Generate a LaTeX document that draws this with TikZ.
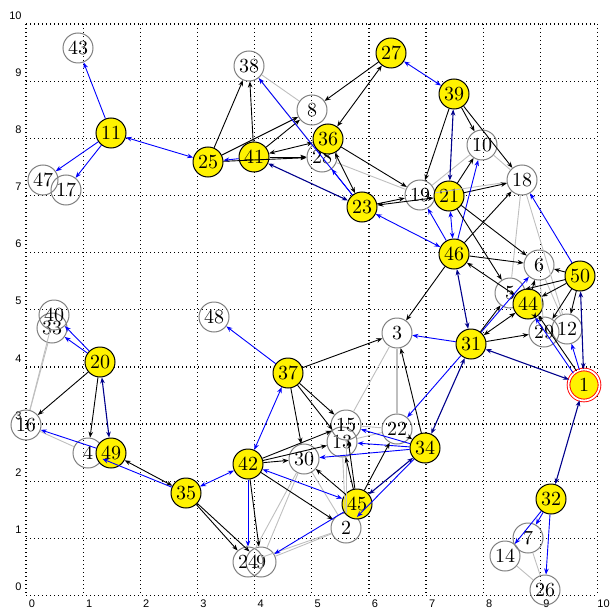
\documentclass[tikz,border=0pt]{standalone}
\usepackage{fontspec}
\newfontfamily\tickfont{Liberation Sans}
\usetikzlibrary{arrows.meta}
\definecolor{navy}{rgb}{0,0,0.55}
\definecolor{lgray}{gray}{0.75}
\definecolor{ngray}{gray}{0.5}
\begin{document}
\begin{tikzpicture}[x=0.5pt,y=-0.5pt,
  nodefont/.style={font=\fontsize{10}{12}\selectfont},
  yn/.style={circle,draw=black,fill=yellow,line width=0.5pt,minimum size=15pt,inner sep=0pt,nodefont},
  wn/.style={circle,draw=ngray,line width=0.5pt,minimum size=15pt,inner sep=0pt,nodefont},
  rn/.style={circle,draw=red,double=white,double distance=0.9pt,line width=0.45pt,fill=yellow,minimum size=15.5pt,inner sep=0pt,nodefont},
  gridl/.style={draw=black,line width=0.6pt,dash pattern=on 0.6pt off 1.4pt},
  tick/.style={font=\tickfont\fontsize{5.5}{6}\selectfont,inner sep=0pt},
  tip/.style={-{Stealth[length=3pt,width=2.3pt]}},
  tip2/.style={{Stealth[length=3pt,width=2.3pt]}-{Stealth[length=3pt,width=2.3pt]}},
  bk/.style={draw=black,line width=0.45pt,tip},
  bk2/.style={draw=black,line width=0.45pt,tip2},
  bl/.style={draw=blue,line width=0.45pt,tip},
  bl2/.style={draw=blue,line width=0.45pt,tip2},
  nv2/.style={draw=navy,line width=0.55pt,tip2},
  gr/.style={draw=lgray,line width=0.45pt}
]
\useasboundingbox (0,0) rectangle (614,609);
% grid
\foreach \i in {0,...,10} {
  \draw[gridl] ({26+57.15*\i},24.0) -- ({26+57.15*\i},595.5);
  \draw[gridl] (26,{595.5-57.15*\i}) -- (597.5,{595.5-57.15*\i});
  \node[tick] at ({32+57.15*\i},604) {\i};
  \node[tick,anchor=east] at (22,{587-57.15*\i}) {\i};
}
% white nodes
\node[wn] (n2) at (346,528) {2};
\node[wn] (n3) at (397,333) {3};
\node[wn] (n4) at (88,453) {4};
\node[wn] (n5) at (510,293) {5};
\node[wn] (n6) at (539,265) {6};
\node[wn] (n7) at (528,538) {7};
\node[wn] (n8) at (312,110) {8};
\node[wn] (n9) at (261,562) {9};
\node[wn] (n10) at (482,145) {10};
\node[wn] (n12) at (567,329) {12};
\node[wn] (n13) at (342,442) {13};
\node[wn] (n14) at (505,556) {14};
\node[wn] (n15) at (346,425) {15};
\node[wn] (n16) at (26,425) {16};
\node[wn] (n17) at (66,190) {17};
\node[wn] (n18) at (522,180) {18};
\node[wn] (n19) at (420,195) {19};
\node[wn] (n22) at (397,429) {22};
\node[wn] (n24) at (248,562) {24};
\node[wn] (n26) at (545,590) {26};
\node[wn] (n28) at (322,157) {28};
\node[wn] (n29) at (544,332) {29};
\node[wn] (n30) at (304,459) {30};
\node[wn] (n33) at (52,328) {33};
\node[wn] (n38) at (249,66) {38};
\node[wn] (n40) at (54,315) {40};
\node[wn] (n43) at (78,48) {43};
\node[wn] (n47) at (43,180) {47};
\node[wn] (n48) at (214,317) {48};
% yellow nodes
\node[yn] (n11) at (111,133) {11};
\node[yn] (n20) at (100,362) {20};
\node[yn] (n21) at (449,196) {21};
\node[yn] (n23) at (362,207) {23};
\node[yn] (n25) at (208,162) {25};
\node[yn] (n27) at (391,53) {27};
\node[yn] (n31) at (471,344) {31};
\node[yn] (n32) at (551,499) {32};
\node[yn] (n34) at (425,448) {34};
\node[yn] (n35) at (186,493) {35};
\node[yn] (n36) at (328,139) {36};
\node[yn] (n37) at (288,373) {37};
\node[yn] (n39) at (454,94) {39};
\node[yn] (n41) at (254,157) {41};
\node[yn] (n42) at (248,464) {42};
\node[yn] (n44) at (528,304) {44};
\node[yn] (n45) at (357,504) {45};
\node[yn] (n46) at (454,254) {46};
\node[yn] (n49) at (111,453) {49};
\node[yn] (n50) at (580,276) {50};
\node[rn] (n1) at (584,385) {1};
% gray undirected edges
\draw[gr] (n38) -- (n8);
\draw[gr] (n38) -- (n28);
\draw[gr] (n28) -- (n19);
\draw[gr] (n19) -- (n10);
\draw[gr] (n10) -- (n18);
\draw[gr] (n19) -- (n18);
\draw[gr] (n18) -- (n5);
\draw[gr] (n18) -- (n12);
\draw[gr] (n6) -- (n29);
\draw[gr] (n6) -- (n12);
\draw[gr,line width=1pt] (n3) -- (n22);
\draw[gr] (n3) -- (n15);
\draw[gr] (n15) -- (n22);
\draw[gr] (n13) -- (n22);
\draw[gr] (n2) -- (n24);
\draw[gr] (n2) -- (n9);
\draw[gr] (n30) -- (n24);
\draw[gr] (n30) -- (n9);
\draw[gr] (n30) -- (n2);
\draw[gr] (n13) -- (n2);
\draw[gr] (n15) -- (n2);
\draw[gr] (n4) -- (n16);
\draw[gr] (n16) -- (n33);
\draw[gr] (n16) -- (n40);
\draw[gr] (n7) -- (n26);
\draw[gr] (n14) -- (n26);
% left part
\draw[bl] (n11) -- (n43);
\draw[bl] (n11) -- (n47);
\draw[bl] (n11) -- (n17);
\draw[bl2] (n11) -- (n25);
\draw[bl] (n41) -- (n25);
\draw[bk] (n25) -- (n38);
\draw[bk] (n41) -- (n38);
\draw[bk] (n25) -- (n8);
\draw[bk] (n41) -- (n8);
\draw[bk] (n27) -- (n8);
\draw[bk] (n25) -- (n28);
\draw[bk] (n41) -- (n28);
\draw[bk2] (n41) -- (n36);
\draw[nv2] (n41) -- (n23);
\draw[bl] (n23) -- (n38);
\draw[bk2] (n27) -- (n36);
\draw[bk2] (n23) -- (n36);
\draw[bl] (n23) -- (n28);
\draw[bk] (n36) -- (n19);
\draw[bk] (n23) -- (n19);
\draw[bk2] (n23) -- (n21);
\draw[bl2] (n23) -- (n46);
\draw[bl2] (n27) -- (n39);
\draw[bk] (n39) -- (n19);
\draw[nv2] (n39) -- (n21);
\draw[bk] (n39) -- (n10);
\draw[bk] (n39) -- (n18);
\draw[bk] (n21) -- (n10);
\draw[bk] (n21) -- (n18);
\draw[bl] (n46) -- (n19);
\draw[bl2] (n46) -- (n21);
\draw[bl] (n46) -- (n10);
\draw[bk] (n46) -- (n18);
\draw[bk] (n21) -- (n6);
\draw[bk] (n21) -- (n5);
\draw[bk] (n46) -- (n6);
\draw[bk2] (n46) -- (n44);
\draw[bl] (n50) -- (n18);
\draw[bk] (n50) -- (n6);
\draw[bk] (n50) -- (n5);
\draw[bk] (n50) -- (n44);
\draw[bk] (n50) -- (n12);
\draw[bk] (n50) -- (n29);
\draw[bk] (n44) -- (n29);
\draw[bk] (n44) -- (n6);
\draw[bl] (n31) -- (n6);
\draw[bk2] (n31) -- (n44);
\draw[bk] (n31) -- (n5);
\draw[bk] (n31) -- (n29);
\draw[nv2] (n31) -- (n1);
\draw[nv2] (n46) -- (n31);
\draw[nv2] (n50) -- (n1);
\draw[bl] (n1) -- (n12);
\draw[bl] (n1.132) -- (n44.-62);
\draw[bk] (n1.118) -- (n44.-48);
\draw[bl] (n31) -- (n3);
\draw[bk] (n46) -- (n3);
\draw[bk] (n37) -- (n3);
\draw[bk] (n34) -- (n3);
\draw[bl] (n31) -- (n22);
\draw[bl] (n34) -- (n15);
\draw[bl] (n34) -- (n13);
\draw[bl] (n34) -- (n30);
\draw[nv2] (n34) -- (n45);
\draw[bl] (n34) -- (n2);
\draw[nv2] (n34) -- (n31);
\draw[bk] (n22) -- (n34);
\draw[bk] (n45) -- (n22);
\draw[bk] (n45) -- (n13);
\draw[bk] (n45) -- (n15);
\draw[bk] (n45) -- (n30);
\draw[bk] (n37) -- (n15);
\draw[bk] (n37) -- (n13);
\draw[bk] (n37) -- (n30);
\draw[bk] (n42) -- (n15);
\draw[bk] (n42) -- (n13);
\draw[bk] (n42) -- (n30);
\draw[bk] (n42) -- (n2);
\draw[bl2] (n42) -- (n45);
\draw[bl] (n45) -- (n9);
\draw[bl] (n42) -- (n24);
\draw[bk] (n42) -- (n9);
\draw[bk] (n35) -- (n24);
\draw[bk] (n35) -- (n9);
\draw[bl2] (n35) -- (n42);
\draw[bl2] (n37) -- (n42);
\draw[bl] (n37) -- (n48);
\draw[bk2] (n35) -- (n49);
\draw[bl] (n35) -- (n4);
\draw[bl] (n49) -- (n16);
\draw[bk] (n20) -- (n16);
\draw[bk] (n20) -- (n4);
\draw[nv2] (n20) -- (n49);
\draw[bl] (n20) -- (n33);
\draw[bl] (n20) -- (n40);
\draw[bl] (n32) -- (n7);
\draw[bl] (n32) -- (n14);
\draw[bl] (n32) -- (n26);
\draw[nv2] (n1) -- (n32);
\end{tikzpicture}
\end{document}
